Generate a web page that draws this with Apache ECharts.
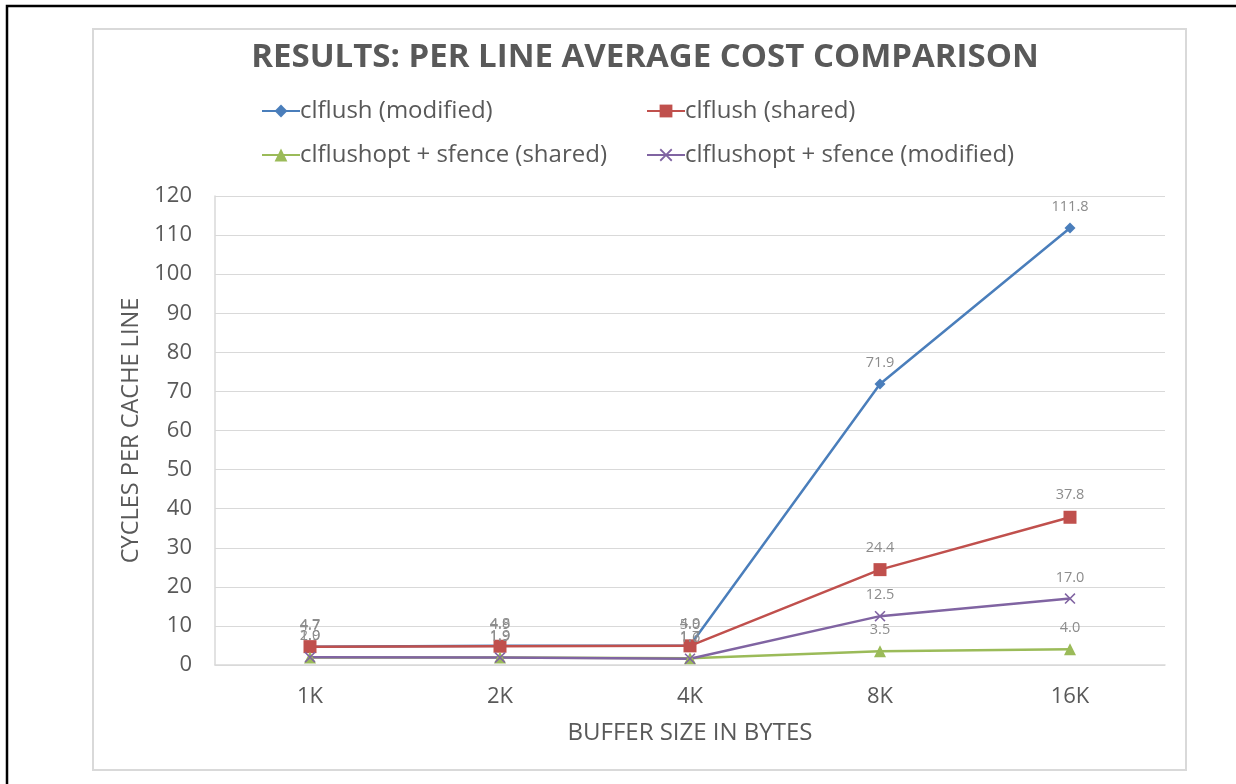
<!DOCTYPE html>
<html>
<head>
<meta charset="utf-8">
<script src="https://cdn.jsdelivr.net/npm/echarts@6/dist/echarts.min.js"></script>
<style>
  html, body { margin: 0; padding: 0; background: #fff; }
  #chart { width: 1236px; height: 784px; }
</style>
</head>
<body>
<div id="chart"></div>
<script>
// Buffer sizes on the x axis
const categories = ['1K', '2K', '4K', '8K', '16K'];

// Average cycles per cache line for each flush variant
const clflushModified = [4.7, 4.9, 5.0, 71.9, 111.8];
const clflushShared = [4.7, 4.8, 4.9, 24.4, 37.8];
const clflushoptShared = [1.9, 1.9, 1.7, 3.5, 4.0];
const clflushoptModified = [2.0, 1.9, 1.6, 12.5, 17.0];

const seriesNames = [
  'clflush (modified)',
  'clflush (shared)',
  'clflushopt + sfence (shared)',
  'clflushopt + sfence (modified)'
];

const textGray = '#595959';
const gridGray = '#d9d9d9';
const font = 'Open Sans';

// filled "x" marker
const crossPath = 'path://M0,1L1,0L5,4L9,0L10,1L6,5L10,9L9,10L5,6L1,10L0,9L4,5Z';

function lineSeries(name, data, color, symbol, size) {
  return {
    name: name,
    type: 'line',
    data: data,
    symbol: symbol,
    symbolSize: size,
    color: color,
    lineStyle: { width: 2.5, color: color },
    itemStyle: { color: color },
    label: {
      show: true,
      position: 'top',
      distance: 8,
      color: '#8c8c8c',
      fontFamily: font,
      fontSize: 14.5,
      formatter: p => p.value.toFixed(1)
    },
    emphasis: { disabled: true },
    animation: false
  };
}

function legendAt(name, left, top) {
  return {
    data: [name],
    left: left,
    top: top,
    itemWidth: 38,
    itemHeight: 16,
    itemGap: 0,
    textStyle: { color: textGray, fontFamily: font, fontSize: 24, padding: [0, 0, 0, -5] },
    selectedMode: false
  };
}

const chart = echarts.init(document.getElementById('chart'), null, { renderer: 'canvas' });

chart.setOption({
  backgroundColor: '#ffffff',
  title: {
    text: 'RESULTS: PER LINE AVERAGE COST COMPARISON',
    left: 640,
    textAlign: 'center',
    top: 36,
    textStyle: { color: textGray, fontFamily: font, fontWeight: 'bold', fontSize: 33 }
  },
  legend: [
    legendAt(seriesNames[0], 256, 94),
    legendAt(seriesNames[1], 641, 94),
    legendAt(seriesNames[2], 256, 138),
    legendAt(seriesNames[3], 641, 138)
  ],
  graphic: [
    {
      type: 'rect',
      shape: { x: 7, y: 6, width: 1400, height: 1000 },
      style: { fill: null, stroke: '#000', lineWidth: 2.5 },
      silent: true
    },
    {
      type: 'rect',
      shape: { x: 93, y: 29, width: 1093, height: 741 },
      style: { fill: null, stroke: gridGray, lineWidth: 2 },
      silent: true
    }
  ],
  grid: { left: 215, right: 71, top: 196, bottom: 119 },
  xAxis: {
    type: 'category',
    data: categories,
    boundaryGap: true,
    name: 'BUFFER SIZE IN BYTES',
    nameLocation: 'middle',
    nameGap: 56,
    nameTextStyle: { color: textGray, fontFamily: font, fontSize: 24 },
    axisLine: { lineStyle: { color: gridGray, width: 1.5 } },
    axisTick: { show: false },
    axisLabel: { color: textGray, fontFamily: font, fontSize: 22, margin: 21 }
  },
  yAxis: {
    type: 'value',
    min: 0,
    max: 120,
    interval: 10,
    name: 'CYCLES PER CACHE LINE',
    nameLocation: 'middle',
    nameGap: 70,
    nameTextStyle: { color: textGray, fontFamily: font, fontSize: 23.5 },
    axisLine: { show: true, lineStyle: { color: gridGray, width: 1.5 } },
    axisTick: { show: false },
    splitLine: { lineStyle: { color: gridGray, width: 1.2 } },
    axisLabel: { color: textGray, fontFamily: font, fontSize: 22, margin: 23 }
  },
  series: [
    lineSeries(seriesNames[0], clflushModified, '#4a7ebb', 'diamond', 11),
    lineSeries(seriesNames[1], clflushShared, '#c0504d', 'rect', 13),
    lineSeries(seriesNames[2], clflushoptShared, '#9bbb59', 'triangle', 12),
    lineSeries(seriesNames[3], clflushoptModified, '#8064a2', crossPath, 11)
  ]
});
</script>
</body>
</html>
